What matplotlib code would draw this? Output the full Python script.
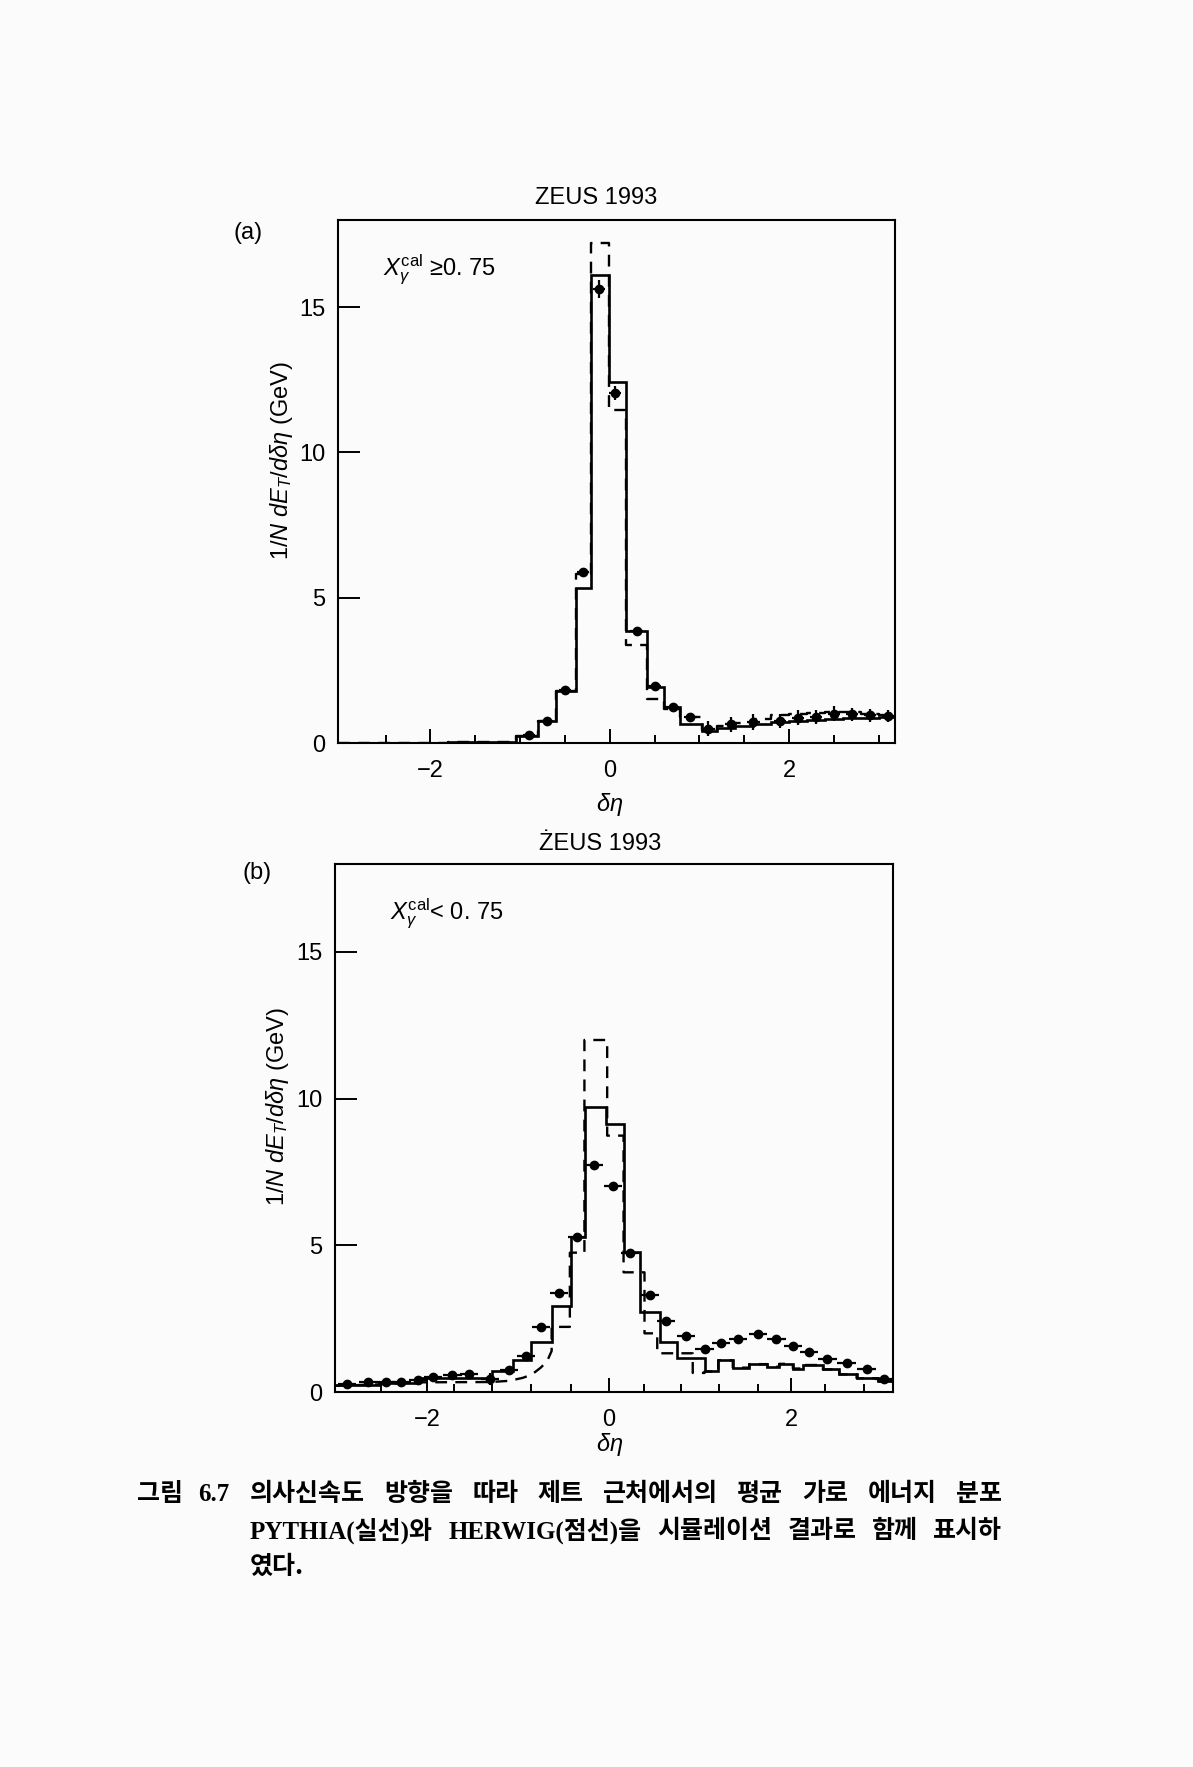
import numpy as np
import matplotlib.pyplot as plt

W, H = 1193, 1767

# ---- panel (a): x_gamma^cal >= 0.75 ----
a_edges = [-3.03, -1.8, -1.05, -0.8, -0.6, -0.38, -0.21, -0.01, 0.18, 0.41, 0.6, 0.78,
           1.03, 1.2, 1.4, 1.6, 1.8, 2.0, 2.2, 2.4, 2.6, 2.8, 3.0, 3.18]
a_pythia = [0.0, 0.05, 0.23, 0.77, 1.8, 5.33, 16.1, 12.43, 3.87, 1.92, 1.23, 0.65,
            0.42, 0.5, 0.58, 0.64, 0.72, 0.77, 0.8, 0.83, 0.85, 0.87, 0.89]
a_herwig = [0.0, 0.05, 0.23, 0.77, 1.8, 5.83, 17.2, 11.45, 3.38, 1.5, 1.18, 0.89,
            0.45, 0.6, 0.7, 0.82, 0.95, 1.0, 1.02, 1.05, 1.05, 1.0, 0.95]
a_x = [-0.9, -0.7, -0.5, -0.3, -0.12, 0.06, 0.3, 0.5, 0.7, 0.9,
       1.1, 1.35, 1.6, 1.9, 2.1, 2.3, 2.5, 2.7, 2.9, 3.1]
a_y = [0.26, 0.74, 1.81, 5.88, 15.62, 12.05, 3.85, 1.95, 1.23, 0.89,
       0.49, 0.64, 0.72, 0.75, 0.87, 0.89, 1.01, 0.99, 0.95, 0.93]
a_yerr = [0, 0, 0, 0, 0.3, 0.25, 0, 0, 0, 0,
          0.25, 0.27, 0.27, 0.25, 0.25, 0.25, 0.25, 0.22, 0.22, 0.22]

# ---- panel (b): x_gamma^cal < 0.75 ----
b_edges = [-3.01, -2.53, -2.09, -1.28, -1.05, -0.86, -0.63, -0.42, -0.26, -0.03, 0.16,
           0.34, 0.56, 0.75, 1.05, 1.2, 1.36, 1.54, 1.74, 1.87, 2.02, 2.13, 2.35, 2.53,
           2.72, 2.96, 3.12]
b_pythia = [0.24, 0.32, 0.47, 0.73, 1.09, 1.7, 2.94, 5.28, 9.72, 9.15, 4.76, 2.74, 1.69,
            1.17, 0.7, 1.08, 0.83, 0.95, 0.86, 0.96, 0.8, 0.92, 0.77, 0.6, 0.47, 0.37]
b_herwig_tail_x = [-3.01, -2.53, -2.09, -1.3, -1.1, -0.95, -0.85, -0.75, -0.68, -0.63]
b_herwig_tail_y = [0.21, 0.26, 0.33, 0.34, 0.38, 0.48, 0.59, 0.83, 1.05, 1.4]
b_herwig_edges = [-0.63, -0.43, -0.27, -0.02, 0.16, 0.39, 0.53, 0.92, 1.05, 1.2, 1.36,
                  1.54, 1.74, 1.87, 2.02, 2.13, 2.35, 2.53, 2.72, 2.96, 3.12]
b_herwig = [2.22, 4.75, 12.0, 8.74, 4.08, 2.0, 1.32, 0.65, 0.7, 1.08,
            0.83, 0.95, 0.86, 0.96, 0.8, 0.92, 0.77, 0.6, 0.47, 0.37]
b_x = [-2.88, -2.65, -2.45, -2.28, -2.1, -1.93, -1.72, -1.54, -1.31, -1.1,
       -0.91, -0.75, -0.55, -0.35, -0.165, 0.04, 0.23, 0.45, 0.63, 0.85,
       1.05, 1.23, 1.42, 1.64, 1.84, 2.02, 2.2, 2.4, 2.61, 2.83, 3.02]
b_y = [0.26, 0.33, 0.35, 0.35, 0.41, 0.52, 0.58, 0.63, 0.44, 0.74,
       1.22, 2.22, 3.39, 5.28, 7.75, 7.02, 4.75, 3.3, 2.42, 1.9,
       1.45, 1.66, 1.81, 1.97, 1.8, 1.58, 1.36, 1.13, 1.0, 0.77, 0.45]
b_yerr = [0] * 8 + [0.2] + [0] * 22

caption1_head = ["그림", "6.7"]
caption1 = ["의사신속도", "방향을", "따라", "제트", "근처에서의", "평균", "가로", "에너지", "분포"]
caption2 = ["PYTHIA(실선)와", "HERWIG(점선)을", "시뮬레이션", "결과로", "함께", "표시하"]
caption3 = "였다."

plt.rcParams['font.family'] = ['Liberation Sans', 'DejaVu Sans']
plt.rcParams['mathtext.fontset'] = 'custom'
plt.rcParams['mathtext.it'] = 'Liberation Sans:italic'
plt.rcParams['mathtext.rm'] = 'Liberation Sans'

fig = plt.figure(figsize=(W / 100, H / 100), dpi=100, facecolor='#fbfbfb')


def px_axes(l, t, r, b):
    return fig.add_axes([l / W, 1 - b / H, (r - l) / W, (b - t) / H])


def step_xy(edges, vals):
    xs = np.repeat(edges, 2)[1:-1]
    ys = np.repeat(vals, 2)
    return xs, ys


def style_axes(ax, xlim, minor):
    ax.set_facecolor('none')
    ax.set_xlim(xlim)
    ax.set_ylim(0, 18)
    ax.set_xticks([-2, 0, 2])
    ax.set_xticklabels(['−2', '0', '2'])
    ax.set_xticks(minor, minor=True)
    ax.set_yticks([0, 5, 10, 15])
    ax.tick_params(axis='x', which='major', direction='in', length=10, width=1.4,
                   pad=12, labelsize=17)
    ax.tick_params(axis='x', which='minor', direction='in', length=6, width=1.4)
    ax.tick_params(axis='y', direction='in', length=16, width=1.4, pad=9, labelsize=17)
    for s in ax.spines.values():
        s.set_linewidth(1.5)
    ax.set_ylabel(r'$1/N\ dE_T/d\delta\eta$ (GeV)', fontsize=17)
    ax.yaxis.set_label_coords(-0.078, 0.54)
    ax.set_xlabel(r'$\delta\eta$', fontsize=17)
    ax.xaxis.label.set_va('center')


# panel (a)
ax_a = px_axes(338, 220, 895, 743)
ax_a.stairs(a_pythia, a_edges, baseline=None, color='k', lw=1.9)
hx, hy = step_xy(a_edges, a_herwig)
ax_a.plot(hx, hy, color='k', lw=1.7, dashes=(5, 3.5))
ax_a.errorbar(a_x, a_y, xerr=0.07, yerr=a_yerr, fmt='o', color='k', ms=6,
              elinewidth=1.6, capsize=0)
style_axes(ax_a, (-3.03, 3.18), [-2.5, -1.5, -1.0, -0.5, 0.5, 1.0, 1.5, 2.5, 3.0])
ax_a.xaxis.set_label_coords((610 - 338) / 557, -(804 - 743) / 523)
ax_a.text((596 - 338) / 557, 1 + (220 - 198) / 523, 'ZEUS 1993', transform=ax_a.transAxes,
          ha='center', va='center', fontsize=17)
ax_a.text(-0.162, 0.975, '(a)', transform=ax_a.transAxes, ha='center', va='center', fontsize=17)
ax_a.text(0.081, 0.904, r'$X_\gamma^{\rm cal}$ ≥0. 75', transform=ax_a.transAxes,
          ha='left', va='center', fontsize=17)

# panel (b)
ax_b = px_axes(335, 864, 893, 1392)
ax_b.stairs(b_pythia, b_edges, baseline=None, color='k', lw=1.9)
sx, sy = step_xy(b_herwig_edges, b_herwig)
ax_b.plot(np.concatenate([b_herwig_tail_x, sx]), np.concatenate([b_herwig_tail_y, sy]),
          color='k', lw=1.7, dashes=(5, 3.5))
ax_b.errorbar(b_x, b_y, xerr=0.1, yerr=b_yerr, fmt='o', color='k', ms=6,
              elinewidth=1.6, capsize=0)
style_axes(ax_b, (-3.01, 3.12), [-2.5, -1.7, -1.28, -0.86, -0.42, 0.38, 0.79, 1.21, 1.64,
                                 2.37, 2.8])
ax_b.xaxis.set_label_coords((610 - 335) / 558, -(1444 - 1392) / 528)
ax_b.text((600 - 335) / 558, 1 + (864 - 844) / 528, 'ŻEUS 1993', transform=ax_b.transAxes,
          ha='center', va='center', fontsize=17)
ax_b.text(-0.14, 0.983, '(b)', transform=ax_b.transAxes, ha='center', va='center', fontsize=17)
ax_b.text(0.099, 0.905, r'$X_\gamma^{\rm cal}$< 0. 75', transform=ax_b.transAxes,
          ha='left', va='center', fontsize=17)

# caption
cap_kw = dict(fontsize=18, fontweight='bold', va='center', ha='left')
cjk = ['Noto Sans CJK KR', 'DejaVu Sans']
serif_cjk = ['Liberation Serif', 'Noto Sans CJK KR']


def justify(words, x0, x1, ypx, family):
    texts = [fig.text(0, 1 - ypx / H, w, family=family, **cap_kw) for w in words]
    r = fig.canvas.get_renderer()
    widths = [t.get_window_extent(r).width for t in texts]
    gap = (x1 - x0 - sum(widths)) / (len(words) - 1)
    x = x0
    for t, w in zip(texts, widths):
        t.set_x(x / W)
        x += w + gap


fig.text(137 / W, 1 - 1494 / H, caption1_head[0], family=cjk, **cap_kw)
fig.text(198 / W, 1 - 1494 / H, caption1_head[1], family=serif_cjk, **cap_kw)
justify(caption1, 250, 1002, 1494, cjk)
justify(caption2, 250, 1002, 1531, serif_cjk)
fig.text(250 / W, 1 - 1567 / H, caption3, family=cjk, **cap_kw)

fig.savefig('out.png', dpi=100, facecolor=fig.get_facecolor())
